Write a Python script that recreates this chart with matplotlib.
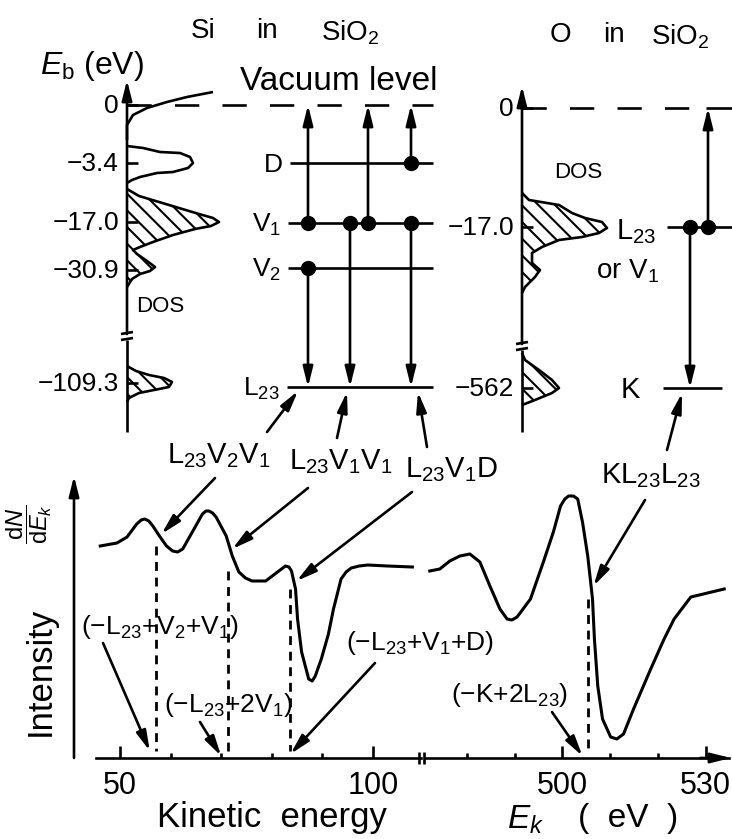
import matplotlib.pyplot as plt

plt.rcParams['font.family'] = ['Liberation Sans', 'DejaVu Sans']
plt.rcParams['mathtext.fontset'] = 'custom'
plt.rcParams['mathtext.rm'] = 'Liberation Sans'
plt.rcParams['mathtext.it'] = 'Liberation Sans:italic'
plt.rcParams['mathtext.bf'] = 'Liberation Sans:bold'
plt.rcParams['hatch.linewidth'] = 1.5

W, H = 732, 839
LW = 1.9

# ---- Оже-спектр dN/dE: кинетическая энергия (эВ) и интенсивность (отн. ед.) ----
ek_si = [46.1, 49.4, 51.4, 53.3, 54.2, 54.9, 55.7, 56.5, 57.8, 59.2, 60.4, 61.4, 62.4,
         64.3, 66.3, 67.0, 67.6, 68.3, 69.0, 71.0, 72.2, 73.5, 74.8, 76.1, 78.8, 81.4,
         82.7, 83.4, 83.9, 84.7, 85.1, 85.9, 87.3, 88.0, 88.6, 89.8, 91.2, 92.2, 93.7,
         94.7, 95.7, 97.3, 99.0, 102.9, 107.8]
dn_si = [212, 215, 221, 234, 238, 239, 237, 232, 222, 212, 207, 206, 209,
         226, 244, 247, 247, 245, 241, 222, 202, 186, 180, 177, 177, 187,
         192, 191, 187, 169, 139, 106, 79, 77, 82, 99, 124, 149, 179,
         186, 190, 192, 193, 192, 191]

ek_o = [472.2, 474.3, 476.4, 478.5, 480.6, 482.7, 484.8, 486.9, 488.4, 489.4, 490.5,
        493.3, 496.0, 498.1, 499.6, 500.5, 501.3, 502.3, 503.2, 504.2, 505.3, 506.3,
        506.7, 507.4, 508.4, 510.1, 511.4, 512.8, 514.9, 518.5, 521.3, 523.4, 526.9,
        533.9]
dn_o = [187, 189, 197, 202, 204, 196, 172, 149, 139, 138, 141, 159, 196, 226, 252,
        259, 262, 262, 259, 236, 202, 159, 119, 72, 39, 21, 19, 24, 49, 89, 119, 139,
        161, 169]

# пунктирные линии (расчётные энергии) и где они начинаются
calc_si = [57.1, 71.4, 83.7]
calc_si_top = [212, 187, 169]
calc_o = [505.3]
calc_o_top = [159]

# ---- DOS (контуры: отступ от оси, строка) ----
si_dos_labels = ['0', '\u22123.4', '\u221217.0', '\u221230.9', '\u2212109.3']
o_dos_labels = ['0', '\u221217.0', '\u2212562']

si_tail_dx = [86, 60, 40, 20, 6, 0, 0]
si_tail_y = [92, 97, 102, 108, 115, 125, 140]
si_p3_dx = [0, 16, 33, 53, 63, 66, 61, 46, 30, 13, 5, 0]
si_p3_y = [146, 148, 152, 153, 157, 163, 168, 172, 173, 177, 180, 183]
si_p17_dx = [0, 12, 32, 52, 72, 86, 92, 84, 68, 46, 26, 13, 6, 10, 20, 28, 23, 13, 5, 0]
si_p17_y = [189, 196, 202, 208, 214, 218, 222, 226, 229, 235, 242, 247, 250, 254,
            261, 267, 271, 274, 279, 287]
si_p109_dx = [0, 9, 22, 37, 45, 42, 27, 12, 2, 0]
si_p109_y = [366, 371, 375, 378, 382, 387, 390, 393, 398, 402]

o_p17_dx = [0, 7, 37, 50, 63, 80, 85, 77, 60, 37, 20, 10, 10, 18, 13, 3, 0]
o_p17_y = [193, 200, 205, 213, 218, 222, 228, 233, 237, 240, 247, 253, 263, 270,
           277, 287, 293]
o_p562_dx = [0, 3, 17, 30, 37, 30, 13, 0]
o_p562_y = [353, 360, 370, 380, 388, 393, 400, 405]

fig = plt.figure(figsize=(W / 100, H / 100), dpi=100)
base = fig.add_axes([0, 0, 1, 1])
base.set_xlim(0, W)
base.set_ylim(H, 0)
base.axis('off')


def arrow(tail, tip, coords='data', lw=LW):
    base.annotate('', xy=tip, xytext=tail, xycoords=coords, textcoords='data',
                  arrowprops=dict(arrowstyle='-|>,head_length=0.8,head_width=0.2',
                                  mutation_scale=15, lw=lw, color='k',
                                  shrinkA=0, shrinkB=0))


def line(xs, ys, **kw):
    kw.setdefault('lw', LW)
    base.plot(xs, ys, color='k', solid_capstyle='butt', **kw)


def dos(x0, dx, ys, hatch=True):
    xs = [x0 + d for d in dx]
    line(xs, ys, solid_joinstyle='round')
    if hatch:
        base.fill(xs, ys, facecolor='none', edgecolor='k', hatch='\\\\', lw=0)


# ---- заголовки ----
base.text(203, 31, 'Si', ha='center', va='center', fontsize=20)
base.text(267, 31, 'in', ha='center', va='center', fontsize=20)
base.text(350, 33, 'SiO$_2$', ha='center', va='center', fontsize=20)
base.text(560, 35, 'O', ha='center', va='center', fontsize=20)
base.text(614, 35, 'in', ha='center', va='center', fontsize=20)
base.text(680, 37, 'SiO$_2$', ha='center', va='center', fontsize=20)
base.text(92, 66, '$E_{\\mathrm{b}}$ (eV)', ha='center', va='center', fontsize=23)

# ---- DOS Si ----
sx = 127
si_rows = [105, 163, 222, 270, 383]
line([sx, sx], [340, 432])
arrow((sx, 334), (sx, 80))
line([sx - 6, sx + 6], [334, 332])
line([sx - 6, sx + 6], [340, 338])
for lab, r in zip(si_dos_labels, si_rows):
    base.text(119, r + 1, lab, ha='right', va='center', fontsize=19)
    line([sx, sx + 11], [r, r])
dos(sx, si_tail_dx, si_tail_y, hatch=False)
dos(sx, si_p3_dx, si_p3_y, hatch=False)
dos(sx, si_p17_dx, si_p17_y)
dos(sx, si_p109_dx, si_p109_y)
base.text(160, 307, 'DOS', ha='center', va='center', fontsize=16)

# ---- уровни Si ----
base.text(339, 82, 'Vacuum level', ha='center', va='center', fontsize=24)
line([sx, 433], [105, 105], ls=(0, (9.2, 8.8)))
levels = {'D': 163, 'V1': 223, 'V2': 268, 'L23': 387}
level_text = {'D': 'D', 'V1': 'V$_1$', 'V2': 'V$_2$', 'L23': 'L$_{23}$'}
level_start = {'D': 290, 'V1': 288, 'V2': 288, 'L23': 287}
for k, r in levels.items():
    line([level_start[k], 433], [r, r])
    base.text(level_start[k] - 7, r + 2, level_text[k], ha='right', va='center', fontsize=19)

up = [('V1', 308), ('V1', 368), ('D', 411)]
down = [('V2', 308), ('V1', 350), ('V1', 411)]
for k, x in up:
    arrow((x, levels[k]), (x, 105))
for k, x in down:
    arrow((x, levels[k]), (x, levels['L23']))
for k, x in up + down:
    base.plot(x, levels[k], 'o', color='k', ms=10)

# ---- DOS O ----
ox = 522
line([ox, ox], [350, 432])
arrow((ox, 344), (ox, 86))
line([ox - 6, ox + 6], [344, 342])
line([ox - 6, ox + 6], [350, 348])
o_rows = [108, 227, 388]
for lab, r in zip(o_dos_labels, o_rows):
    base.text(514, r + 1, lab, ha='right', va='center', fontsize=19)
    line([ox, ox + 11], [r, r])
dos(ox, o_p17_dx, o_p17_y)
dos(ox, o_p562_dx, o_p562_y)
base.text(578, 173, 'DOS', ha='center', va='center', fontsize=16)

line([ox, 706], [108, 108], ls=(0, (9.2, 8.8)))
line([706, 732], [108, 108])
line([667, 732], [227, 227])
line([663, 722], [388, 388])
arrow((708, 227), (708, 108))
arrow((690, 227), (690, 388))
base.plot([690, 708], [227, 227], 'o', color='k', ms=10)
base.text(636, 232, 'L$_{23}$', ha='center', va='center', fontsize=21)
base.text(628, 271, 'or V$_1$', ha='center', va='center', fontsize=20)
base.text(630, 390, 'K', ha='center', va='center', fontsize=21)

# ---- спектр ----
def spec_axes(x0, x1, xlim):
    ax = fig.add_axes([x0 / W, (H - 758) / H, (x1 - x0) / W, 280 / H])
    ax.set_xlim(*xlim)
    ax.set_ylim(0, 280)
    ax.patch.set_alpha(0)
    for s in ['top', 'left', 'right']:
        ax.spines[s].set_visible(False)
    ax.spines['bottom'].set_linewidth(LW)
    ax.set_yticks([])
    ax.tick_params(axis='x', direction='in', length=9, width=LW, labelsize=22, pad=9)
    ax.tick_params(axis='x', which='minor', direction='in', length=3.5, width=LW)
    return ax


ax_lo = spec_axes(96, 421, (45.26, 109.5))
ax_lo.set_xticks([50, 100])
ax_lo.set_xticks([60, 70, 80, 90], minor=True)
ax_hi = spec_axes(425, 729, (471.2, 534.9))
ax_hi.set_xticks([500, 530])
ax_hi.set_xticks([480, 490, 510, 520], minor=True)

ax_lo.plot(ek_si, dn_si, color='k', lw=2.2, solid_joinstyle='round', clip_on=False)
ax_hi.plot(ek_o, dn_o, color='k', lw=2.2, solid_joinstyle='round', clip_on=False)
for e, t in zip(calc_si, calc_si_top):
    ax_lo.plot([e, e], [t, 7], color='k', lw=2, ls=(0, (3.2, 2.4)), clip_on=False)
for e, t in zip(calc_o, calc_o_top):
    ax_hi.plot([e, e], [t, 7], color='k', lw=2, ls=(0, (3.2, 2.4)), clip_on=False)

arrow((700, 758), (731, 758))
line([419, 419], [752, 764])
line([424, 424], [752, 764])
arrow((74, 758), (74, 476))

base.text(29, 524, '$\\dfrac{\\mathrm{d}N}{\\mathrm{d}E_k}$', rotation=90,
          ha='center', va='center', fontsize=17)
base.text(40, 671, 'Intensity', rotation=90, ha='center', va='center', fontsize=25)
base.text(272, 817, 'Kinetic  energy', ha='center', va='center', fontsize=25)
base.text(525, 820, '$E_k$', ha='center', va='center', fontsize=24)
base.text(628, 818, '(  eV  )', ha='center', va='center', fontsize=24)

# ---- подписи Оже-переходов ----
base.text(219, 456, 'L$_{23}$V$_2$V$_1$', ha='center', va='center', fontsize=21)
base.text(341, 462, 'L$_{23}$V$_1$V$_1$', ha='center', va='center', fontsize=21)
base.text(452, 470, 'L$_{23}$V$_1$D', ha='center', va='center', fontsize=21)
base.text(651, 476, 'KL$_{23}$L$_{23}$', ha='center', va='center', fontsize=21)

arrow((267, 432), (298, 391))
arrow((337, 438), (347, 392))
arrow((427, 447), (418, 392))
arrow((667, 450), (682, 393))

arrow((215, 478), (58.2, 224), coords=ax_lo.transData)
arrow((308, 488), (72.2, 209), coords=ax_lo.transData)
arrow((412, 492), (84.9, 177), coords=ax_lo.transData)
arrow((645, 500), (506.5, 172), coords=ax_hi.transData)

base.text(160, 627, '(\u2212L$_{23}$+V$_2$+V$_1$)', ha='center', va='center', fontsize=19)
base.text(228, 705, '(\u2212L$_{23}$+2V$_1$)', ha='center', va='center', fontsize=19)
base.text(420, 643, '(\u2212L$_{23}$+V$_1$+D)', ha='center', va='center', fontsize=19)
base.text(510, 695, '(\u2212K+2L$_{23}$)', ha='center', va='center', fontsize=19)

arrow((103, 643), (55.9, 7), coords=ax_lo.transData)
arrow((200, 722), (70.0, 2), coords=ax_lo.transData)
arrow((375, 663), (83.7, 4), coords=ax_lo.transData)
arrow((552, 712), (504.2, 2), coords=ax_hi.transData)

fig.savefig('out.png', dpi=100)
